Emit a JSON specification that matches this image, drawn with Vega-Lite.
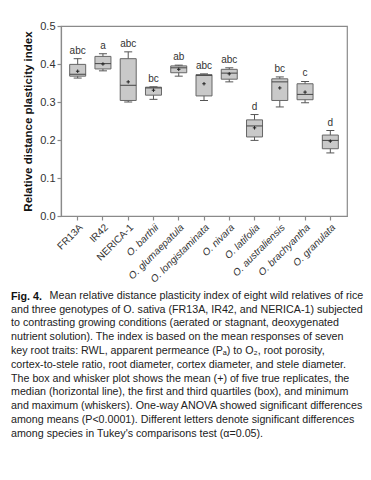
{
  "$schema": "https://vega.github.io/schema/vega-lite/v6.json",
  "width": 286,
  "height": 190,
  "padding": {"left": 11, "top": 20, "right": 5, "bottom": 5},
  "background": "white",
  "config": {
    "font": "Liberation Sans",
    "view": {"stroke": "#8a8a8a", "strokeWidth": 1.2},
    "axis": {"domainColor": "#8a8a8a", "tickColor": "#8a8a8a", "domainWidth": 1.2, "tickWidth": 1.2, "labelColor": "#333", "grid": false}
  },
  "title": {
    "text": "Fig. 4.",
    "orient": "bottom",
    "anchor": "start",
    "frame": "group",
    "dx": -50,
    "offset": 8,
    "font": "Liberation Sans",
    "fontSize": 10.7,
    "fontWeight": "bold",
    "color": "#111",
    "subtitle": [
      "\u200b\u00a0\u00a0\u00a0\u00a0\u00a0\u00a0\u00a0\u00a0\u00a0\u00a0\u00a0\u00a0\u00a0Mean relative distance plasticity index of eight wild relatives of rice",
      "and three genotypes of O. sativa (FR13A, IR42, and NERICA-1) subjected",
      "to contrasting growing conditions (aerated or stagnant, deoxygenated",
      "nutrient solution). The index is based on the mean responses of seven",
      "key root traits: RWL, apparent permeance (P\u2090) to O\u2082, root porosity,",
      "cortex-to-stele ratio, root diameter, cortex diameter, and stele diameter.",
      "The box and whisker plot shows the mean (+) of five true replicates, the",
      "median (horizontal line), the first and third quartiles (box), and minimum",
      "and maximum (whiskers). One-way ANOVA showed significant differences",
      "among means (P<0.0001). Different letters denote significant differences",
      "among species in Tukey's comparisons test (\u03b1=0.05)."
    ],
    "subtitleFont": "Liberation Sans",
    "subtitleFontSize": 10.7,
    "subtitleColor": "#222",
    "subtitleLineHeight": 13.8,
    "subtitlePadding": -12
  },
  "data": {
    "values": [
      {"species": "FR13A", "min": 0.363, "q1": 0.368, "median": 0.373, "q3": 0.399, "max": 0.414, "mean": 0.381, "letter": "abc"},
      {"species": "IR42", "min": 0.382, "q1": 0.387, "median": 0.401, "q3": 0.420, "max": 0.427, "mean": 0.400, "letter": "a"},
      {"species": "NERICA-1", "min": 0.300, "q1": 0.304, "median": 0.344, "q3": 0.414, "max": 0.432, "mean": 0.353, "letter": "abc"},
      {"species": "O. barthii", "min": 0.307, "q1": 0.318, "median": 0.337, "q3": 0.339, "max": 0.340, "mean": 0.331, "letter": "bc"},
      {"species": "O. glumaepatula", "min": 0.368, "q1": 0.377, "median": 0.390, "q3": 0.395, "max": 0.397, "mean": 0.386, "letter": "ab"},
      {"species": "O. longistaminata", "min": 0.304, "q1": 0.316, "median": 0.370, "q3": 0.372, "max": 0.374, "mean": 0.348, "letter": "abc"},
      {"species": "O. nivara", "min": 0.353, "q1": 0.360, "median": 0.376, "q3": 0.386, "max": 0.390, "mean": 0.374, "letter": "abc"},
      {"species": "O. latifolia", "min": 0.199, "q1": 0.208, "median": 0.237, "q3": 0.253, "max": 0.267, "mean": 0.232, "letter": "d"},
      {"species": "O. australiensis", "min": 0.287, "q1": 0.304, "median": 0.353, "q3": 0.361, "max": 0.366, "mean": 0.337, "letter": "bc"},
      {"species": "O. brachyantha", "min": 0.298, "q1": 0.306, "median": 0.320, "q3": 0.348, "max": 0.354, "mean": 0.326, "letter": "c"},
      {"species": "O. granulata", "min": 0.166, "q1": 0.177, "median": 0.199, "q3": 0.213, "max": 0.225, "mean": 0.197, "letter": "d"}
    ]
  },
  "encoding": {
    "x": {
      "field": "species",
      "type": "nominal",
      "sort": null,
      "scale": {"paddingInner": 0, "paddingOuter": 0.16},
      "axis": {
        "title": null,
        "labelAngle": -45,
        "labelFontSize": 10,
        "labelColor": "#333",
        "tickSize": 4,
        "labelPadding": 2,
        "labelFontStyle": {"condition": {"test": "indexof(datum.value, 'O. ') === 0", "value": "italic"}, "value": "normal"}
      }
    }
  },
  "layer": [
    {
      "mark": {"type": "rule", "color": "#555", "strokeWidth": 1},
      "encoding": {
        "y": {
          "field": "min", "type": "quantitative",
          "scale": {"domain": [0, 0.5], "nice": false},
          "axis": {"title": "Relative distance plasticity index", "titleFontSize": 11.5, "titleFontWeight": "bold", "titleColor": "#111", "titlePadding": 6, "values": [0, 0.1, 0.2, 0.3, 0.4, 0.5], "format": ".1f", "labelFontSize": 11, "labelOverlap": false, "labelFlush": false, "tickSize": 4, "labelPadding": 2}
        },
        "y2": {"field": "max"}
      }
    },
    {
      "mark": {"type": "bar", "size": 16, "fill": "#c9c9c9", "stroke": "#666", "strokeWidth": 1},
      "encoding": {
        "y": {
          "field": "q1", "type": "quantitative",
          "axis": {"title": "Relative distance plasticity index", "titleFontSize": 11.5, "titleFontWeight": "bold", "titleColor": "#111", "titlePadding": 6, "values": [0, 0.1, 0.2, 0.3, 0.4, 0.5], "format": ".1f", "labelFontSize": 11, "labelOverlap": false, "labelFlush": false, "tickSize": 4, "labelPadding": 2}
        },
        "y2": {"field": "q3"}
      }
    },
    {
      "mark": {"type": "tick", "size": 16, "thickness": 1, "color": "#444", "opacity": 1},
      "encoding": {
        "y": {
          "field": "median", "type": "quantitative",
          "axis": {"title": "Relative distance plasticity index", "titleFontSize": 11.5, "titleFontWeight": "bold", "titleColor": "#111", "titlePadding": 6, "values": [0, 0.1, 0.2, 0.3, 0.4, 0.5], "format": ".1f", "labelFontSize": 11, "labelOverlap": false, "labelFlush": false, "tickSize": 4, "labelPadding": 2}
        }
      }
    },
    {
      "mark": {"type": "tick", "size": 8, "thickness": 1, "color": "#555", "opacity": 1},
      "encoding": {
        "y": {
          "field": "min", "type": "quantitative",
          "axis": {"title": "Relative distance plasticity index", "titleFontSize": 11.5, "titleFontWeight": "bold", "titleColor": "#111", "titlePadding": 6, "values": [0, 0.1, 0.2, 0.3, 0.4, 0.5], "format": ".1f", "labelFontSize": 11, "labelOverlap": false, "labelFlush": false, "tickSize": 4, "labelPadding": 2}
        }
      }
    },
    {
      "mark": {"type": "tick", "size": 8, "thickness": 1, "color": "#555", "opacity": 1},
      "encoding": {
        "y": {
          "field": "max", "type": "quantitative",
          "axis": {"title": "Relative distance plasticity index", "titleFontSize": 11.5, "titleFontWeight": "bold", "titleColor": "#111", "titlePadding": 6, "values": [0, 0.1, 0.2, 0.3, 0.4, 0.5], "format": ".1f", "labelFontSize": 11, "labelOverlap": false, "labelFlush": false, "tickSize": 4, "labelPadding": 2}
        }
      }
    },
    {
      "mark": {"type": "point", "shape": "M-1,0H1M0,-1V1", "size": 12, "stroke": "#222", "strokeWidth": 1, "filled": false, "opacity": 1},
      "encoding": {
        "y": {
          "field": "mean", "type": "quantitative",
          "axis": {"title": "Relative distance plasticity index", "titleFontSize": 11.5, "titleFontWeight": "bold", "titleColor": "#111", "titlePadding": 6, "values": [0, 0.1, 0.2, 0.3, 0.4, 0.5], "format": ".1f", "labelFontSize": 11, "labelOverlap": false, "labelFlush": false, "tickSize": 4, "labelPadding": 2}
        }
      }
    },
    {
      "mark": {"type": "text", "baseline": "bottom", "dy": -3, "fontSize": 10, "color": "#333"},
      "encoding": {
        "y": {
          "field": "max", "type": "quantitative",
          "axis": {"title": "Relative distance plasticity index", "titleFontSize": 11.5, "titleFontWeight": "bold", "titleColor": "#111", "titlePadding": 6, "values": [0, 0.1, 0.2, 0.3, 0.4, 0.5], "format": ".1f", "labelFontSize": 11, "labelOverlap": false, "labelFlush": false, "tickSize": 4, "labelPadding": 2}
        },
        "text": {"field": "letter"}
      }
    }
  ]
}
